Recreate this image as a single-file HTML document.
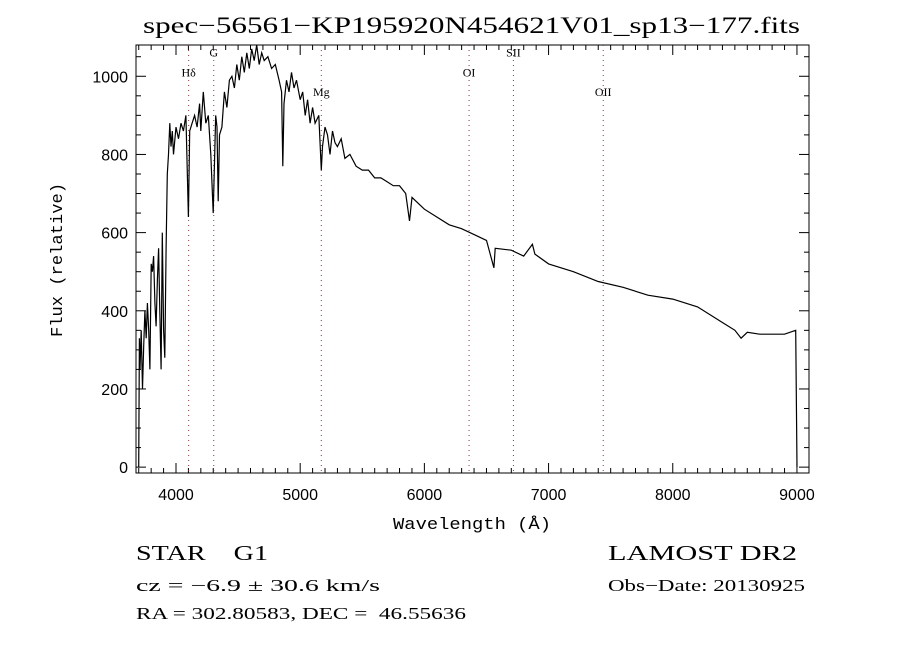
<!DOCTYPE html>
<html><head><meta charset="utf-8"><style>
body{margin:0;background:#fff;}
svg{display:block;}
text{fill:#000;white-space:pre;}
</style></head><body>
<svg id="c" width="900" height="650" xmlns="http://www.w3.org/2000/svg">
<rect width="900" height="650" fill="#fff"/>
<text x="143" y="33" textLength="657" lengthAdjust="spacingAndGlyphs" font-family="Liberation Serif, serif" font-size="23">spec−56561−KP195920N454621V01_sp13−177.fits</text>
<rect x="136" y="45" width="673" height="428" fill="none" stroke="#000" stroke-width="1"/>
<g id="ticks"></g>
<g id="lines"></g>
<g id="spec"></g>
<text x="393" y="529" textLength="158" lengthAdjust="spacingAndGlyphs" font-family="Liberation Mono, monospace" font-size="17">Wavelength (Å)</text>
<text transform="translate(62,337) rotate(-90)" textLength="154" lengthAdjust="spacingAndGlyphs" font-family="Liberation Mono, monospace" font-size="17">Flux (relative)</text>
<text x="136" y="560" textLength="132" lengthAdjust="spacingAndGlyphs" font-family="Liberation Serif, serif" font-size="21">STAR    G1</text>
<text x="136" y="591" textLength="244" lengthAdjust="spacingAndGlyphs" font-family="Liberation Serif, serif" font-size="17">cz = −6.9 ± 30.6 km/s</text>
<text x="136" y="619" textLength="330" lengthAdjust="spacingAndGlyphs" font-family="Liberation Serif, serif" font-size="17">RA = 302.80583, DEC =  46.55636</text>
<text x="608" y="560" textLength="189" lengthAdjust="spacingAndGlyphs" font-family="Liberation Serif, serif" font-size="21">LAMOST DR2</text>
<text x="608" y="591" textLength="197" lengthAdjust="spacingAndGlyphs" font-family="Liberation Serif, serif" font-size="17">Obs−Date: 20130925</text>
</svg>
<script>
const wave=[3700,3705,3710,3720,3730,3740,3750,3760,3770,3780,3790,3800,3810,3820,3830,3840,3850,3860,3870,3880,3890,3900,3910,3920,3930,3940,3950,3960,3970,3980,4000,4020,4040,4060,4080,4100,4110,4130,4150,4170,4190,4200,4220,4240,4260,4280,4300,4310,4320,4330,4340,4350,4370,4390,4410,4430,4450,4470,4490,4510,4530,4550,4570,4590,4610,4630,4650,4670,4690,4710,4740,4770,4800,4830,4850,4860,4870,4890,4910,4930,4950,4970,5000,5020,5040,5060,5080,5100,5120,5150,5170,5180,5200,5220,5240,5260,5280,5300,5330,5360,5400,5450,5500,5550,5600,5650,5700,5750,5800,5850,5880,5900,6000,6100,6200,6300,6400,6500,6560,6570,6700,6800,6870,6890,7000,7200,7400,7600,7800,8000,8200,8400,8500,8550,8600,8700,8800,8900,8990,9000];
const flux=[0,330,250,350,200,310,400,330,420,350,250,520,500,540,420,360,480,560,400,250,600,350,280,560,750,800,880,820,860,800,870,840,880,860,900,640,860,880,900,870,930,860,960,880,900,800,650,780,900,870,680,850,870,960,920,990,1000,970,1030,990,1050,1010,1060,1020,1070,1040,1080,1030,1060,1040,1050,1020,1030,990,960,770,930,990,960,1010,970,990,940,960,900,940,880,920,880,900,760,820,870,850,800,860,830,820,840,790,800,770,760,760,740,740,730,720,720,700,630,690,660,640,620,610,595,580,510,560,555,540,570,545,520,500,475,460,440,430,410,370,350,330,345,340,340,340,350,0];
const lineNames=["Hδ","G","Mg","OI","SII","OII"];
const lineWaves=[4102,4304,5170,6360,6717,7440];
const lineLabelY=[1000,1050,950,1000,1050,950];
const xTicks=[4000,5000,6000,7000,8000,9000];
const yTicks=[0,200,400,600,800,1000];
const NS="http://www.w3.org/2000/svg";
const L=136,R=809,T=45,B=473;
const W0=3678,W1=9097,F0=-15,F1=1080;
const X=w=>L+(w-W0)/(W1-W0)*(R-L);
const Y=f=>B-(f-F0)/(F1-F0)*(B-T);
function mk(tag,attrs,parent){const e=document.createElementNS(NS,tag);for(const k in attrs)e.setAttribute(k,attrs[k]);parent.appendChild(e);return e;}
const tg=document.getElementById('ticks');
for(let w=3700;w<=9097;w+=100){const maj=w%1000===0;const x=X(w);
 const t1=mk('line',{x1:x,x2:x,y1:B,y2:B-(maj?10:5),stroke:'#000'},tg);
 
 
 const t2=mk('line',{x1:x,x2:x,y1:T,y2:T+(maj?10:5),stroke:'#000'},tg);
 
 }
for(let f=0;f<=1080;f+=50){const maj=f%200===0;const y=Y(f);
 const t1=mk('line',{x1:L,x2:L+(maj?10:5),y1:y,y2:y,stroke:'#000'},tg);
 
 
 const t2=mk('line',{x1:R,x2:R-(maj?10:5),y1:y,y2:y,stroke:'#000'},tg);
 
 }
xTicks.forEach(w=>{const t=mk('text',{x:X(w),y:500,'text-anchor':'middle','font-family':'Liberation Sans, sans-serif','font-size':'16'},tg);t.textContent=w;
 
 });
yTicks.forEach(f=>{const t=mk('text',{x:128,y:Y(f)+6,'text-anchor':'end','font-family':'Liberation Sans, sans-serif','font-size':'16'},tg);t.textContent=f;
 
 });
const lg=document.getElementById('lines');
lineWaves.forEach((w,i)=>{const x=X(w);
 const l=mk('line',{x1:x,x2:x,y1:T,y2:B,stroke:'#8b3a3a','stroke-width':1,'stroke-dasharray':'1,4'},lg);
 
 
 const t=mk('text',{x:x,y:Y(lineLabelY[i]),'text-anchor':'middle','font-family':'Liberation Serif, serif','font-size':'12'},lg);t.textContent=lineNames[i];
 
 });
const sg=document.getElementById('spec');
let d='';wave.forEach((w,i)=>{d+=(i?'L':'M')+X(w).toFixed(1)+','+Y(flux[i]).toFixed(1);});
const p=mk('path',{d:d,fill:'none',stroke:'#000','stroke-width':1.2},sg);


</script>
</body></html>
